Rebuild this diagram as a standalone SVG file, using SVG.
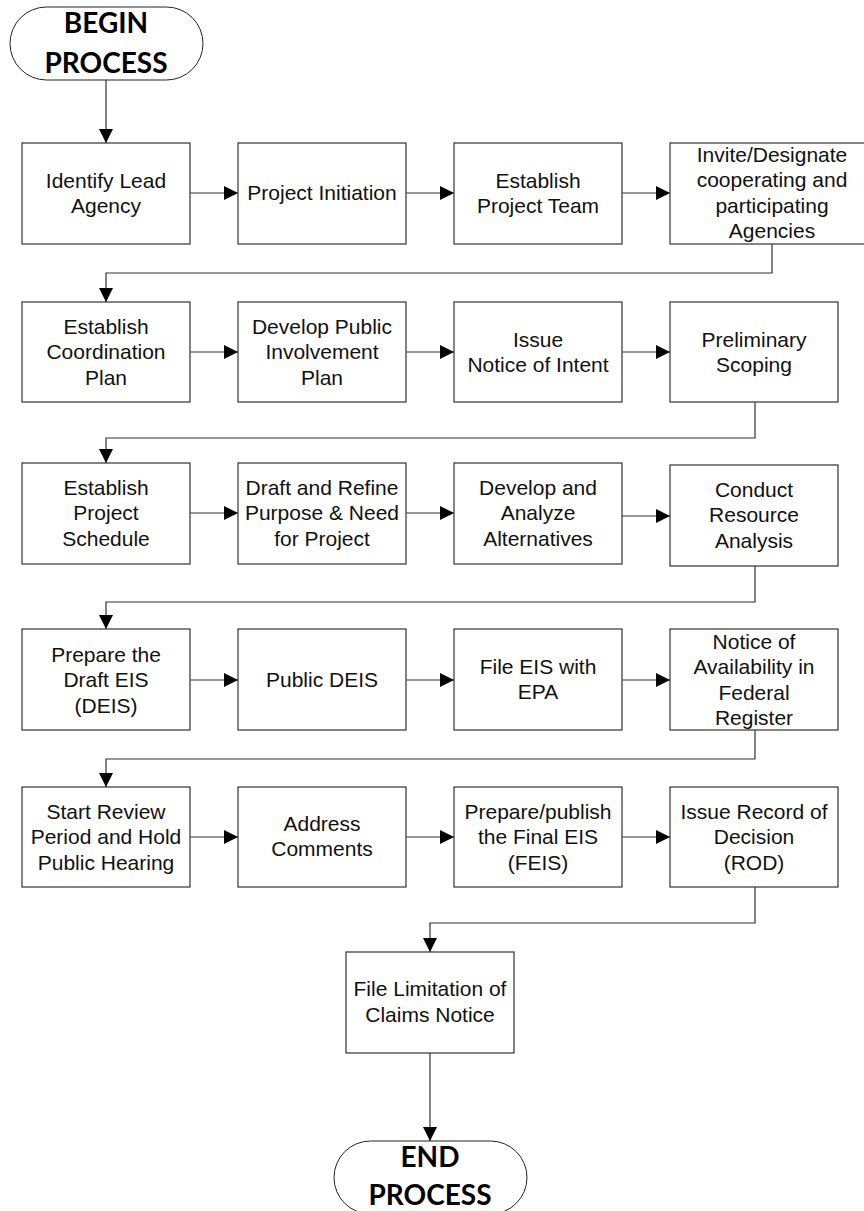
<svg xmlns="http://www.w3.org/2000/svg" width="864" height="1211" viewBox="0 0 864 1211">
<defs>
<marker id="ah" viewBox="0 0 14 14" refX="14" refY="7" markerWidth="14" markerHeight="14" markerUnits="userSpaceOnUse" orient="auto">
<path d="M0,0 L14,7 L0,14 Z" fill="#000"/>
</marker>
</defs>
<style>
.box{fill:#fff;stroke:#333;stroke-width:1.2}
.term{fill:#fff;stroke:#222;stroke-width:1}
.t{font-family:"Liberation Sans",Arial,sans-serif;font-size:21px;fill:#111;text-anchor:middle}
.tb{font-family:Lato,"Liberation Sans",sans-serif;font-weight:bold;font-size:28px;fill:#000;text-anchor:middle}
.c{fill:none;stroke:#333;stroke-width:1.2}
.ca{fill:none;stroke:#333;stroke-width:1.2;marker-end:url(#ah)}
</style>
<rect width="864" height="1211" fill="#fff"/>

<g id="connectors">
<path class="ca" d="M106,80 V143"/>
<path class="ca" d="M190,193 H238"/>
<path class="ca" d="M406,193 H454"/>
<path class="ca" d="M622,193 H670"/>
<path class="ca" d="M772,244 V273 H106 V302"/>
<path class="ca" d="M190,352 H238"/>
<path class="ca" d="M406,352 H454"/>
<path class="ca" d="M622,352 H670"/>
<path class="ca" d="M755,402 V438 H106 V463"/>
<path class="ca" d="M190,513 H238"/>
<path class="ca" d="M406,513 H454"/>
<path class="ca" d="M622,516 H670"/>
<path class="ca" d="M755,566 V602 H106 V629"/>
<path class="ca" d="M190,680 H238"/>
<path class="ca" d="M406,680 H454"/>
<path class="ca" d="M622,680 H670"/>
<path class="ca" d="M755,730 V759 H106 V787"/>
<path class="ca" d="M190,837 H238"/>
<path class="ca" d="M406,837 H454"/>
<path class="ca" d="M622,837 H670"/>
<path class="ca" d="M755,887 V923 H430 V952"/>
<path class="ca" d="M430,1053 V1141"/>
</g>

<g id="begin">
<rect class="term" x="10" y="7" width="193" height="73" rx="36.5"/>
<text class="tb" x="106" y="33">BEGIN</text>
<text class="tb" x="106" y="73">PROCESS</text>
</g>

<g id="n1"><rect class="box" x="22" y="143" width="168" height="101"/>
<text class="t" x="106" y="188">Identify Lead</text><text class="t" x="106" y="213">Agency</text></g>
<g id="n2"><rect class="box" x="238" y="143" width="168" height="101"/>
<text class="t" x="322" y="200">Project Initiation</text></g>
<g id="n3"><rect class="box" x="454" y="143" width="168" height="101"/>
<text class="t" x="538" y="188">Establish</text><text class="t" x="538" y="213">Project Team</text></g>
<g id="n4"><rect class="box" x="670" y="143" width="204" height="101"/>
<text class="t" x="772" y="162">Invite/Designate</text><text class="t" x="772" y="187">cooperating and</text><text class="t" x="772" y="213">participating</text><text class="t" x="772" y="238">Agencies</text></g>

<g id="n5"><rect class="box" x="22" y="302" width="168" height="100"/>
<text class="t" x="106" y="334">Establish</text><text class="t" x="106" y="359">Coordination</text><text class="t" x="106" y="385">Plan</text></g>
<g id="n6"><rect class="box" x="238" y="302" width="168" height="100"/>
<text class="t" x="322" y="334">Develop Public</text><text class="t" x="322" y="359">Involvement</text><text class="t" x="322" y="385">Plan</text></g>
<g id="n7"><rect class="box" x="454" y="302" width="168" height="100"/>
<text class="t" x="538" y="347">Issue</text><text class="t" x="538" y="372">Notice of Intent</text></g>
<g id="n8"><rect class="box" x="670" y="302" width="168" height="100"/>
<text class="t" x="754" y="347">Preliminary</text><text class="t" x="754" y="372">Scoping</text></g>

<g id="n9"><rect class="box" x="22" y="463" width="168" height="101"/>
<text class="t" x="106" y="495">Establish</text><text class="t" x="106" y="520">Project</text><text class="t" x="106" y="546">Schedule</text></g>
<g id="n10"><rect class="box" x="238" y="463" width="168" height="101"/>
<text class="t" x="322" y="495">Draft and Refine</text><text class="t" x="322" y="520">Purpose &amp; Need</text><text class="t" x="322" y="546">for Project</text></g>
<g id="n11"><rect class="box" x="454" y="463" width="168" height="101"/>
<text class="t" x="538" y="495">Develop and</text><text class="t" x="538" y="520">Analyze</text><text class="t" x="538" y="546">Alternatives</text></g>
<g id="n12"><rect class="box" x="670" y="465" width="168" height="101"/>
<text class="t" x="754" y="497">Conduct</text><text class="t" x="754" y="522">Resource</text><text class="t" x="754" y="548">Analysis</text></g>

<g id="n13"><rect class="box" x="22" y="629" width="168" height="101"/>
<text class="t" x="106" y="662">Prepare the</text><text class="t" x="106" y="687">Draft EIS</text><text class="t" x="106" y="713">(DEIS)</text></g>
<g id="n14"><rect class="box" x="238" y="629" width="168" height="101"/>
<text class="t" x="322" y="687">Public DEIS</text></g>
<g id="n15"><rect class="box" x="454" y="629" width="168" height="101"/>
<text class="t" x="538" y="674">File EIS with</text><text class="t" x="538" y="699">EPA</text></g>
<g id="n16"><rect class="box" x="670" y="629" width="168" height="101"/>
<text class="t" x="754" y="649">Notice of</text><text class="t" x="754" y="674">Availability in</text><text class="t" x="754" y="700">Federal</text><text class="t" x="754" y="725">Register</text></g>

<g id="n17"><rect class="box" x="22" y="787" width="168" height="100"/>
<text class="t" x="106" y="819">Start Review</text><text class="t" x="106" y="844">Period and Hold</text><text class="t" x="106" y="870">Public Hearing</text></g>
<g id="n18"><rect class="box" x="238" y="787" width="168" height="100"/>
<text class="t" x="322" y="831">Address</text><text class="t" x="322" y="856">Comments</text></g>
<g id="n19"><rect class="box" x="454" y="787" width="168" height="100"/>
<text class="t" x="538" y="819">Prepare/publish</text><text class="t" x="538" y="844">the Final EIS</text><text class="t" x="538" y="870">(FEIS)</text></g>
<g id="n20"><rect class="box" x="670" y="787" width="168" height="100"/>
<text class="t" x="754" y="819">Issue Record of</text><text class="t" x="754" y="844">Decision</text><text class="t" x="754" y="870">(ROD)</text></g>

<g id="n21"><rect class="box" x="346" y="952" width="168" height="101"/>
<text class="t" x="430" y="996">File Limitation of</text><text class="t" x="430" y="1022">Claims Notice</text></g>

<g id="end">
<rect class="term" x="334" y="1141" width="193" height="73" rx="36.5"/>
<text class="tb" x="430" y="1167">END</text>
<text class="tb" x="430" y="1205">PROCESS</text>
</g>
</svg>
